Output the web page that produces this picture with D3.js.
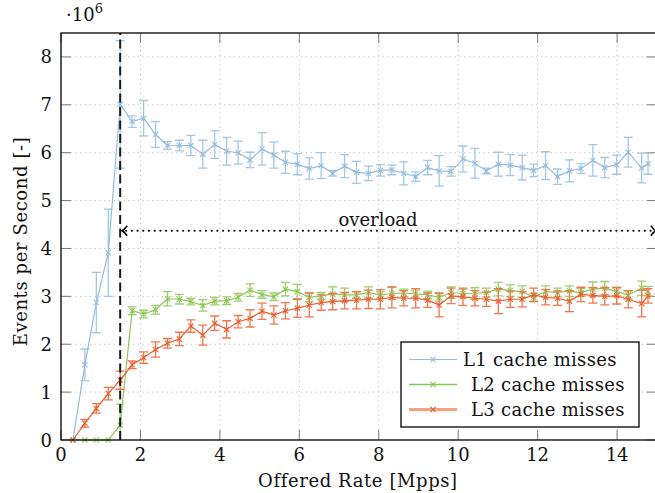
<!DOCTYPE html>
<html>
<head>
<meta charset="utf-8">
<script src="https://cdn.jsdelivr.net/npm/d3@7"></script>
</head>
<body style="margin:0;background:#fff">
<div id="chart"></div>
<script>
// Offered rates (Mpps) of the measurement points
const rates = [0.30, 0.60, 0.89, 1.19, 1.49, 1.79, 2.08, 2.38, 2.68, 2.98,
  3.27, 3.57, 3.87, 4.17, 4.46, 4.76, 5.06, 5.36, 5.65, 5.95,
  6.25, 6.55, 6.84, 7.14, 7.44, 7.74, 8.04, 8.33, 8.63, 8.93,
  9.23, 9.52, 9.82, 10.12, 10.42, 10.71, 11.01, 11.31, 11.61, 11.90,
  12.20, 12.50, 12.80, 13.09, 13.39, 13.69, 13.99, 14.28, 14.62, 14.78];

// events per second, in millions (mean and half error bar)
const l1Values = [0, 1.57, 2.87, 3.91, 7.01, 6.65, 6.72, 6.38, 6.15, 6.15,
  6.15, 5.97, 6.17, 6.03, 6.00, 5.85, 6.08, 5.95, 5.80, 5.76,
  5.67, 5.73, 5.57, 5.72, 5.59, 5.57, 5.63, 5.64, 5.57, 5.50,
  5.69, 5.62, 5.61, 5.87, 5.78, 5.62, 5.76, 5.74, 5.69, 5.63,
  5.73, 5.50, 5.62, 5.67, 5.84, 5.69, 5.75, 6.01, 5.68, 5.77];
const l1Errors = [0, 0.33, 0.63, 0.91, 1.33, 0.12, 0.37, 0.27, 0.08, 0.11,
  0.21, 0.29, 0.29, 0.29, 0.24, 0.16, 0.34, 0.27, 0.23, 0.22,
  0.22, 0.27, 0.06, 0.24, 0.23, 0.15, 0.12, 0.10, 0.24, 0.10,
  0.15, 0.32, 0.10, 0.27, 0.31, 0.06, 0.25, 0.22, 0.26, 0.13,
  0.29, 0.16, 0.23, 0.10, 0.33, 0.21, 0.20, 0.31, 0.31, 0.22];

const l2Values = [0, 0, 0, 0, 0.31, 2.70, 2.63, 2.72, 2.95, 2.94,
  2.89, 2.81, 2.90, 2.91, 2.98, 3.13, 3.04, 2.99, 3.15, 3.10,
  2.98, 3.01, 3.05, 3.03, 3.03, 3.08, 3.03, 3.06, 3.07, 3.05,
  3.03, 2.98, 3.08, 3.06, 3.06, 3.08, 3.15, 3.12, 3.10, 2.98,
  3.10, 3.08, 3.11, 3.08, 3.15, 3.17, 3.10, 3.03, 3.17, 3.11];
const l2Errors = [0, 0, 0, 0, 0.44, 0.08, 0.08, 0.09, 0.15, 0.10,
  0.07, 0.12, 0.08, 0.08, 0.08, 0.13, 0.08, 0.08, 0.14, 0.15,
  0.09, 0.07, 0.15, 0.14, 0.07, 0.12, 0.07, 0.13, 0.08, 0.08,
  0.08, 0.08, 0.12, 0.09, 0.12, 0.09, 0.14, 0.12, 0.12, 0.08,
  0.12, 0.09, 0.11, 0.08, 0.15, 0.14, 0.09, 0.08, 0.15, 0.10];

const l3Values = [0, 0.35, 0.66, 0.97, 1.25, 1.57, 1.72, 1.89, 2.02, 2.11,
  2.38, 2.19, 2.44, 2.31, 2.47, 2.54, 2.69, 2.61, 2.70, 2.75,
  2.82, 2.87, 2.89, 2.91, 2.92, 2.94, 2.94, 2.98, 2.96, 2.96,
  2.92, 2.82, 3.01, 2.99, 2.96, 2.94, 2.90, 2.94, 2.94, 3.03,
  2.98, 2.96, 2.90, 3.04, 3.02, 3.00, 3.01, 2.94, 2.85, 3.01];
const l3Errors = [0, 0.08, 0.10, 0.13, 0.19, 0.08, 0.12, 0.16, 0.10, 0.14,
  0.13, 0.21, 0.15, 0.18, 0.13, 0.18, 0.17, 0.19, 0.17, 0.19,
  0.25, 0.16, 0.17, 0.17, 0.18, 0.19, 0.20, 0.22, 0.16, 0.20,
  0.15, 0.25, 0.16, 0.18, 0.16, 0.15, 0.26, 0.17, 0.16, 0.14,
  0.16, 0.15, 0.22, 0.15, 0.16, 0.18, 0.17, 0.18, 0.28, 0.15];

const seriesNames = ["L1 cache misses", "L2 cache misses", "L3 cache misses"];
const xTicks = [0, 2, 4, 6, 8, 10, 12, 14];
const yTicks = [0, 1, 2, 3, 4, 5, 6, 7, 8];
const overloadStart = 1.49;  // Mpps, start of overload
const overloadLevel = 4.37;  // height of the arrow (millions)

const width = 655, height = 493;
const marginLeft = 61, marginTop = 33, plotBottom = 440;

const series = [
  {name: seriesNames[0], values: l1Values, errors: l1Errors, color: "#93bddf", err: "#a3c8e5", legendWidth: 1.2, dx: 0},
  {name: seriesNames[1], values: l2Values, errors: l2Errors, color: "#8cc655", err: "#9ccf6c", legendWidth: 1.6, dx: 8},
  {name: seriesNames[2], values: l3Values, errors: l3Errors, color: "#ef5a2a", err: "#f2764c", legendWidth: 3, dx: 8, legendColor: "#f7a083"}
];

const x = d3.scaleLinear([0, 15], [marginLeft, marginLeft + 15 * 39.72]);
const y = d3.scaleLinear([0, 8.5], [plotBottom, marginTop]);

const svg = d3.select("#chart").append("svg")
    .attr("width", width)
    .attr("height", height);

// every label goes through this
function label(parent, size, spacing) {
  return parent.append("text")
      .attr("font-family", "DejaVu Serif")
      .style("font-family", '"DejaVu Serif"')
      .style("font-size", size + "px")
      .style("letter-spacing", (spacing || 0) + "px")
      .attr("fill", "#111");
}

svg.append("defs").append("clipPath").attr("id", "plot")
  .append("rect")
    .attr("x", x(0)).attr("y", y(8.5))
    .attr("width", x(15) - x(0)).attr("height", y(0) - y(8.5));

// grid
const grid = svg.append("g").attr("stroke", "#bdbdbd").attr("stroke-dasharray", "1.2,3.6");
grid.selectAll(".gx").data(xTicks.filter(d => d > 0)).join("line")
    .attr("x1", d => x(d)).attr("x2", d => x(d))
    .attr("y1", y(0)).attr("y2", y(8.5));
grid.selectAll(".gy").data(yTicks.filter(d => d > 0)).join("line")
    .attr("x1", x(0)).attr("x2", x(15))
    .attr("y1", d => y(d)).attr("y2", d => y(d));

// tick marks on all four sides, pointing inward
const ticks = svg.append("g").attr("stroke", "#7a7a7a").attr("stroke-width", 1);
const tl = 10;
xTicks.forEach(t => {
  ticks.append("line").attr("x1", x(t)).attr("x2", x(t)).attr("y1", y(0)).attr("y2", y(0) - tl);
  ticks.append("line").attr("x1", x(t)).attr("x2", x(t)).attr("y1", y(8.5)).attr("y2", y(8.5) + tl);
});
yTicks.forEach(t => {
  ticks.append("line").attr("x1", x(0)).attr("x2", x(0) + tl).attr("y1", y(t)).attr("y2", y(t));
  ticks.append("line").attr("x1", x(15)).attr("x2", x(15) - tl).attr("y1", y(t)).attr("y2", y(t));
});

// tick labels
const xl = svg.append("g");
xTicks.forEach(t => {
  label(xl, 18).attr("x", x(t)).attr("y", 461).attr("text-anchor", "middle").text(t);
});
const yl = svg.append("g");
yTicks.forEach(t => {
  label(yl, 18).attr("x", 52).attr("y", y(t) + 6.5).attr("text-anchor", "end").text(t);
});

// scale factor
const sf = label(svg, 18).attr("x", 66).attr("y", 21);
sf.append("tspan").text("\u00b710");
sf.append("tspan").attr("dy", -8).style("font-size", "13px").text("6");

// axis labels
label(svg, 18, 0.6)
    .attr("x", (x(0) + x(15)) / 2 - 1).attr("y", 487)
    .attr("text-anchor", "middle")
    .text("Offered Rate [Mpps]");
label(svg, 18, 0.6)
    .attr("transform", `translate(27,${(y(0) + y(8.5)) / 2 + 5}) rotate(-90)`)
    .attr("text-anchor", "middle")
    .text("Events per Second [-]");

// series
const line = d3.line().x((d, i) => x(rates[i])).y(d => y(d));
const cross = "M-2.6,-2.6L2.6,2.6M-2.6,2.6L2.6,-2.6";
series.forEach(s => {
  const g = svg.append("g");
  const eb = g.append("g").attr("clip-path", "url(#plot)")
      .attr("stroke", s.err).attr("stroke-width", 1.3).attr("fill", "none");
  s.values.forEach((v, i) => {
    const e = s.errors[i];
    if (!e) return;
    const cx = x(rates[i]);
    eb.append("path")
      .attr("d", `M${cx},${y(v - e)}V${y(v + e)}M${cx - 4.5},${y(v - e)}H${cx + 4.5}M${cx - 4.5},${y(v + e)}H${cx + 4.5}`);
  });
  g.append("path").datum(s.values)
      .attr("d", line)
      .attr("fill", "none")
      .attr("stroke", s.color)
      .attr("stroke-width", 1.2);
  g.append("g").selectAll("path").data(s.values).join("path")
      .attr("transform", (d, i) => `translate(${x(rates[i])},${y(d)})`)
      .attr("d", cross)
      .attr("stroke", s.color)
      .attr("stroke-width", 1.1);
});

// overload boundary
svg.append("line")
    .attr("x1", x(overloadStart)).attr("x2", x(overloadStart))
    .attr("y1", y(0)).attr("y2", y(8.5))
    .attr("stroke", "#1a1a1a").attr("stroke-width", 2)
    .attr("stroke-dasharray", "9,4.5");

const ay = y(overloadLevel);
const ax1 = x(overloadStart) + 2, ax2 = x(15) - 1;
svg.append("line")
    .attr("x1", ax1 + 4).attr("x2", ax2 - 4)
    .attr("y1", ay).attr("y2", ay)
    .attr("stroke", "#000").attr("stroke-width", 2.2)
    .attr("stroke-linecap", "round")
    .attr("stroke-dasharray", "0,5.7");
svg.append("path")
    .attr("d", `M${ax1 + 5},${ay - 5}Q${ax1 + 2},${ay - 1} ${ax1},${ay}Q${ax1 + 2},${ay + 1} ${ax1 + 5},${ay + 5}` +
               `M${ax2 - 5},${ay - 5}Q${ax2 - 2},${ay - 1} ${ax2},${ay}Q${ax2 - 2},${ay + 1} ${ax2 - 5},${ay + 5}`)
    .attr("fill", "none").attr("stroke", "#000").attr("stroke-width", 1.5);
label(svg, 18)
    .attr("x", 378).attr("y", 226)
    .attr("text-anchor", "middle")
    .text("overload");

// frame
svg.append("rect")
    .attr("x", x(0)).attr("y", y(8.5))
    .attr("width", x(15) - x(0)).attr("height", y(0) - y(8.5))
    .attr("fill", "none").attr("stroke", "#000").attr("stroke-width", 1.3);

// legend
const legend = svg.append("g");
legend.append("rect")
    .attr("x", 401).attr("y", 342).attr("width", 238).attr("height", 85)
    .attr("fill", "#fff").attr("stroke", "#000").attr("stroke-width", 1.3);
series.forEach((s, i) => {
  const ry = 359.5 + i * 25;
  legend.append("line")
      .attr("x1", 409).attr("x2", 457).attr("y1", ry).attr("y2", ry)
      .attr("stroke", s.legendColor || s.color).attr("stroke-width", s.legendWidth);
  legend.append("path")
      .attr("transform", `translate(433,${ry})`)
      .attr("d", cross).attr("stroke", s.color).attr("stroke-width", 1.1);
  label(legend, 18, 0.3)
      .attr("x", 463 + s.dx).attr("y", ry + 6.5)
      .text(s.name);
});
</script>
</body>
</html>
